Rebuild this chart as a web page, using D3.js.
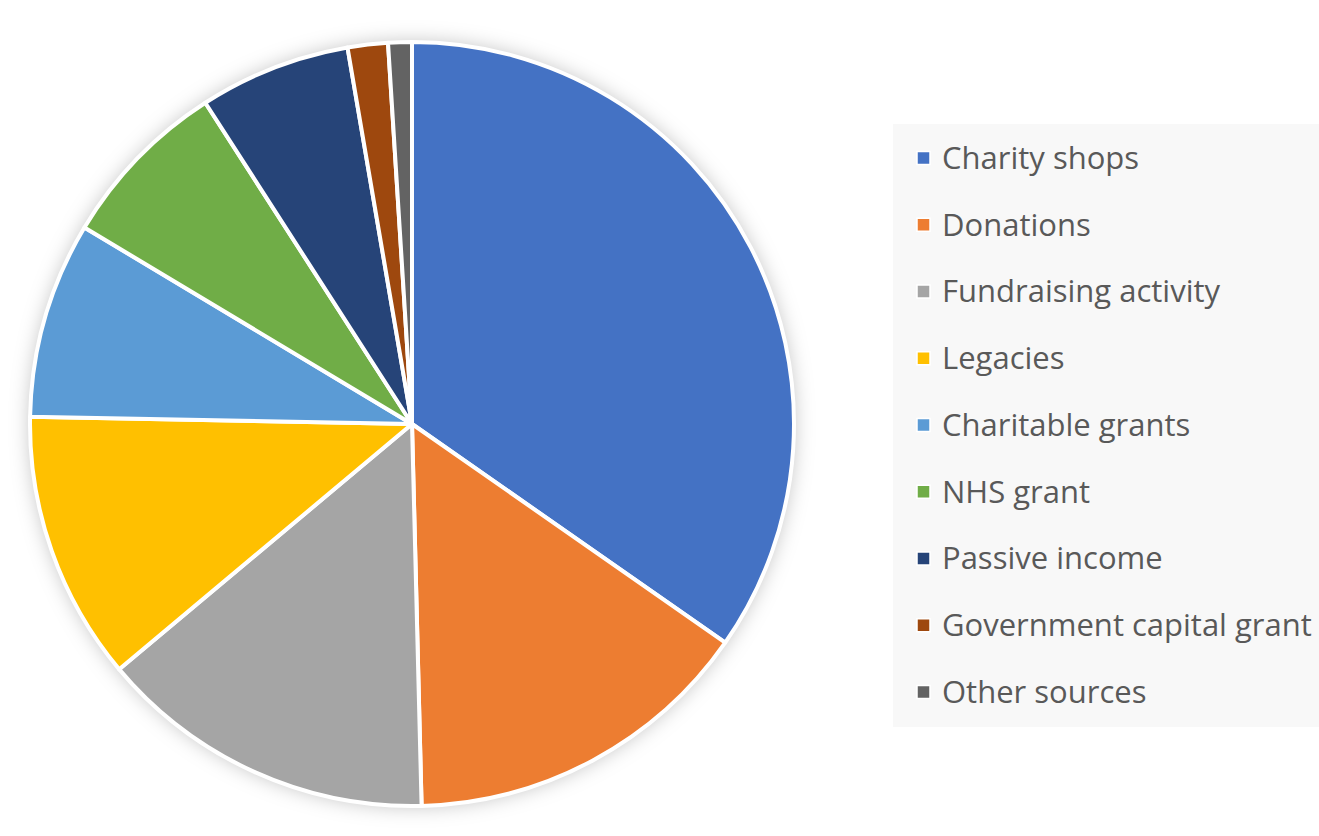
<!DOCTYPE html>
<html>
<head>
<meta charset="utf-8">
<script src="https://cdn.jsdelivr.net/npm/d3@7"></script>
<style>
  body { margin: 0; background: #fff; }
  svg { display: block; }
</style>
</head>
<body>
<div id="canvas"></div>
<script>
var categories = ["Charity shops", "Donations", "Fundraising activity", "Legacies",
  "Charitable grants", "NHS grant", "Passive income", "Government capital grant", "Other sources"];
var values = [34.7, 14.9, 14.3, 11.4, 8.3, 7.3, 6.4, 1.7, 1.0];
var colors = ["#4472c4", "#ed7d31", "#a5a5a5", "#ffc000", "#5b9bd5",
  "#70ad47", "#264478", "#9e480e", "#636363"];

var width = 1319, height = 836;
var cx = 412, cy = 424, radius = 382;

var data = categories.map(function (c, i) {
  return { name: c, value: values[i], color: colors[i] };
});

var svg = d3.select("#canvas").append("svg")
  .attr("width", width)
  .attr("height", height);

// soft shadow round the pie
var defs = svg.append("defs");
var f = defs.append("filter").attr("id", "shadow")
  .attr("x", "-10%").attr("y", "-10%").attr("width", "120%").attr("height", "120%");
f.append("feDropShadow")
  .attr("dx", 0).attr("dy", 0)
  .attr("stdDeviation", 10)
  .attr("flood-color", "#000")
  .attr("flood-opacity", 0.25);

var pie = d3.pie().sort(null).value(function (d) { return d.value; });
var arc = d3.arc().innerRadius(0).outerRadius(radius);

var g = svg.append("g")
  .attr("transform", "translate(" + cx + "," + cy + ")");

g.append("circle")
  .attr("r", radius)
  .attr("fill", "#fff")
  .attr("filter", "url(#shadow)");

g.selectAll("path")
  .data(pie(data)).enter()
  .append("path")
  .attr("d", arc)
  .attr("fill", function (d) { return d.data.color; })
  .attr("stroke", "#fff")
  .attr("stroke-width", 4)
  .attr("stroke-linejoin", "round");

// legend
var legend = svg.append("g");
legend.append("rect")
  .attr("x", 893).attr("y", 124)
  .attr("width", 426).attr("height", 603)
  .attr("fill", "#f8f8f8");

var row = d3.scalePoint()
  .domain(categories)
  .range([158, 692]);

var item = legend.selectAll("g.item")
  .data(data).enter()
  .append("g")
  .attr("class", "item")
  .attr("transform", function (d) { return "translate(0," + row(d.name) + ")"; });

item.append("rect")
  .attr("x", 917).attr("y", -6.5)
  .attr("width", 13).attr("height", 13)
  .attr("fill", function (d) { return d.color; })
  .attr("stroke", "#fff")
  .attr("stroke-width", 1.5);

item.append("text")
  .attr("x", 942)
  .attr("y", 0)
  .attr("dy", "0.35em")
  .attr("font-family", "'Open Sans', 'Noto Sans', sans-serif")
  .attr("font-size", "31px")
  .attr("fill", "#595959")
  .text(function (d) { return d.name; });
</script>
</body>
</html>
